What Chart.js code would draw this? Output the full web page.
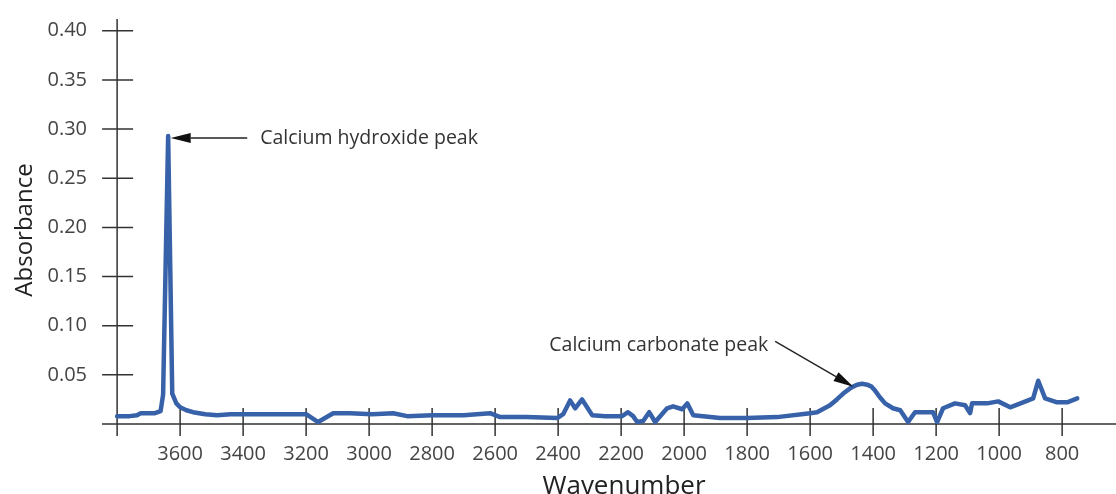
<!DOCTYPE html>
<html>
<head>
<meta charset="utf-8">
<script src="https://cdn.jsdelivr.net/npm/chart.js@4.4.1/dist/chart.umd.min.js"></script>
<style>
  html, body { margin: 0; padding: 0; background: #ffffff; }
  #wrap { width: 1116px; height: 494px; position: relative; }
</style>
</head>
<body>
<div id="wrap"><canvas id="spectrum"></canvas></div>
<script>
// IR spectrum of a lime / calcite sample: wavenumber (cm^-1) vs absorbance
const wavenumber = [
  3800, 3760, 3737, 3725, 3680, 3662, 3654, 3638, 3625, 3612, 3600, 3580, 3559, 3520, 3483,
  3440, 3400, 3300, 3200, 3162, 3114, 3060, 2990, 2924, 2879, 2800, 2700, 2616, 2584, 2500,
  2403, 2384, 2362, 2346, 2324, 2292, 2250, 2197, 2178, 2162, 2149, 2130, 2111, 2092, 2054,
  2035, 2006, 1990, 1971, 1886, 1800, 1705, 1600, 1578, 1537, 1515, 1495, 1470, 1451, 1435,
  1419, 1405, 1394, 1378, 1362, 1337, 1314, 1289, 1267, 1210, 1197, 1178, 1140, 1108, 1092,
  1086, 1038, 1003, 965, 924, 892, 876, 854, 816, 784, 752
];
const absorbance = [
  0.008, 0.008, 0.009, 0.011, 0.011, 0.013, 0.030, 0.293, 0.031, 0.021, 0.017, 0.014, 0.012, 0.010, 0.009,
  0.010, 0.010, 0.010, 0.010, 0.002, 0.011, 0.011, 0.010, 0.011, 0.008, 0.009, 0.009, 0.011, 0.007, 0.007,
  0.006, 0.010, 0.024, 0.016, 0.025, 0.009, 0.008, 0.008, 0.012, 0.008, 0.002, 0.003, 0.012, 0.002, 0.016,
  0.018, 0.015, 0.021, 0.009, 0.006, 0.006, 0.007, 0.011, 0.012, 0.019, 0.025, 0.031, 0.037, 0.040, 0.041,
  0.040, 0.038, 0.034, 0.027, 0.021, 0.016, 0.014, 0.002, 0.012, 0.012, 0.002, 0.016, 0.021, 0.019, 0.011,
  0.021, 0.021, 0.023, 0.017, 0.022, 0.026, 0.044, 0.026, 0.022, 0.022, 0.026
];
const xTickValues = [3600, 3400, 3200, 3000, 2800, 2600, 2400, 2200, 2000, 1800, 1600, 1400, 1200, 1000, 800];
const yTickValues = [0.05, 0.10, 0.15, 0.20, 0.25, 0.30, 0.35, 0.40];
const xAxisTitle = 'Wavenumber';
const yAxisTitle = 'Absorbance';

// Callouts, anchored in data coordinates
const callouts = [
  { text: 'Calcium hydroxide peak', tail: [3387, 0.291], tip: [3630, 0.291], label: [3346, 0.291], align: 'left' },
  { text: 'Calcium carbonate peak', tail: [1711, 0.084], tip: [1463, 0.038], label: [1733, 0.080], align: 'right' }
];

const FONT = 'Open Sans';
Chart.defaults.font.family = FONT;

const axisOrigin = 3800; // where the absorbance axis crosses

const axesPlugin = {
  id: 'spectrumAxes',
  beforeDatasetsDraw(chart) {
    const { ctx, scales: { x, y } } = chart;
    const y0 = y.getPixelForValue(0);
    const xo = x.getPixelForValue(axisOrigin);
    ctx.save();
    ctx.strokeStyle = '#333';
    ctx.lineWidth = 1.5;
    ctx.beginPath();
    // horizontal axis
    ctx.moveTo(x.left, y0); ctx.lineTo(x.right, y0);
    // vertical axis
    ctx.moveTo(xo, y.top); ctx.lineTo(xo, y0 + 12);
    // y tick marks crossing the axis
    yTickValues.forEach(v => {
      const py = y.getPixelForValue(v);
      ctx.moveTo(xo - 15, py); ctx.lineTo(xo + 16, py);
    });
    // x tick marks crossing the axis
    xTickValues.forEach(v => {
      const px = x.getPixelForValue(v);
      ctx.moveTo(px, y0 - 16); ctx.lineTo(px, y0 + 12);
    });
    ctx.stroke();
    ctx.restore();
  },
  afterDraw(chart) {
    const { ctx, scales: { x, y } } = chart;
    ctx.save();
    // axis titles
    ctx.fillStyle = '#222';
    ctx.font = '24px "' + FONT + '"';
    ctx.textAlign = 'center';
    ctx.textBaseline = 'middle';
    ctx.translate(25, 230);
    ctx.rotate(-Math.PI / 2);
    ctx.fillText(yAxisTitle, 0, 0);
    ctx.setTransform(1, 0, 0, 1, 0, 0);
    ctx.font = '26px "' + FONT + '"';
    ctx.textBaseline = 'alphabetic';
    ctx.fillText(xAxisTitle, 624, 494);

    // callouts with arrows
    callouts.forEach(c => {
      const tx = x.getPixelForValue(c.tail[0]), ty = y.getPixelForValue(c.tail[1]);
      const hx = x.getPixelForValue(c.tip[0]), hy = y.getPixelForValue(c.tip[1]);
      const ang = Math.atan2(hy - ty, hx - tx);
      const headLen = 20, headHalf = 5;
      const bx = hx - headLen * Math.cos(ang), by = hy - headLen * Math.sin(ang);
      ctx.strokeStyle = '#222';
      ctx.fillStyle = '#111';
      ctx.lineWidth = 1.4;
      ctx.beginPath();
      ctx.moveTo(tx, ty); ctx.lineTo(bx, by);
      ctx.stroke();
      ctx.beginPath();
      ctx.moveTo(hx, hy);
      ctx.lineTo(bx + headHalf * Math.sin(ang), by - headHalf * Math.cos(ang));
      ctx.lineTo(bx - headHalf * Math.sin(ang), by + headHalf * Math.cos(ang));
      ctx.closePath();
      ctx.fill();

      ctx.fillStyle = '#333';
      ctx.font = '19.5px "' + FONT + '"';
      ctx.textAlign = c.align;
      ctx.textBaseline = 'middle';
      ctx.fillText(c.text, x.getPixelForValue(c.label[0]), y.getPixelForValue(c.label[1]));
    });
    ctx.restore();
  }
};

new Chart(document.getElementById('spectrum'), {
  type: 'line',
  data: {
    datasets: [{
      data: wavenumber.map((w, i) => ({ x: w, y: absorbance[i] })),
      borderColor: '#3761a8',
      borderWidth: 4.5,
      pointRadius: 0,
      tension: 0,
      borderJoinStyle: 'round',
      borderCapStyle: 'round',
      clip: false,
      fill: false
    }]
  },
  options: {
    responsive: true,
    maintainAspectRatio: false,
    animation: false,
    layout: { padding: { top: 13, right: 0, left: 0, bottom: 0 } },
    plugins: { legend: { display: false }, tooltip: { enabled: false } },
    scales: {
      x: {
        type: 'linear',
        reverse: true,
        min: 3848,
        max: 629,
        grid: { display: false },
        border: { display: false },
        afterBuildTicks: s => { s.ticks = xTickValues.map(v => ({ value: v })); },
        afterFit: s => { s.height = 70; },
        ticks: {
          autoSkip: false,
          maxRotation: 0,
          padding: 10,
          color: '#444',
          font: { size: 20 },
          callback: v => String(v)
        }
      },
      y: {
        min: 0,
        max: 0.412,
        grid: { display: false },
        border: { display: false },
        afterBuildTicks: s => { s.ticks = yTickValues.map(v => ({ value: v })); },
        afterFit: s => { s.width = 102; },
        ticks: {
          padding: 7,
          color: '#444',
          font: { size: 20 },
          callback: v => v.toFixed(2)
        }
      }
    }
  },
  plugins: [axesPlugin]
});
</script>
</body>
</html>
